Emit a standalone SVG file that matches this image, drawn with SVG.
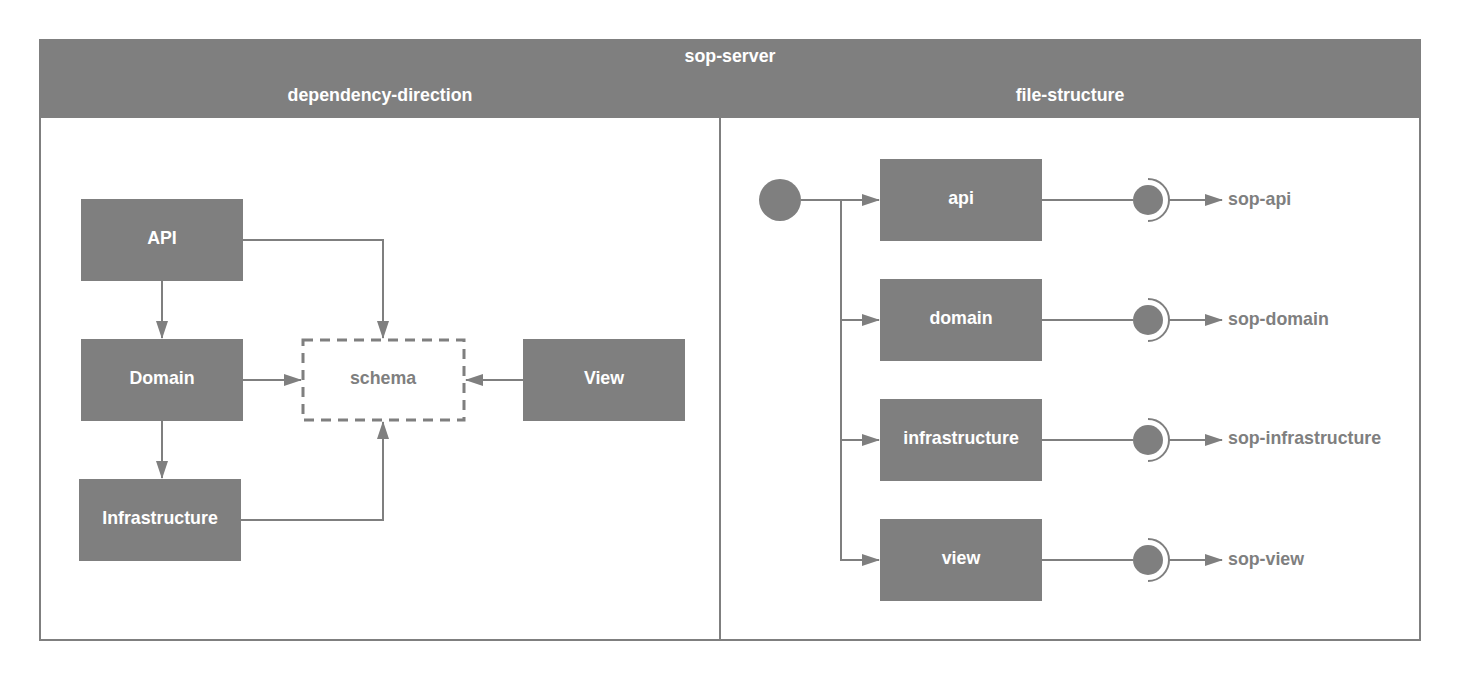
<svg xmlns="http://www.w3.org/2000/svg" width="1460" height="680" viewBox="0 0 1460 680">
<defs>
<marker id="ah" markerWidth="18" markerHeight="12" refX="17" refY="6" orient="auto" markerUnits="userSpaceOnUse">
<path d="M0,0 L18,6 L0,12 Z" fill="#7f7f7f"/>
</marker>
<style>
.box{fill:#7f7f7f}
.wt{fill:#ffffff;font-family:"Liberation Sans",Arial,sans-serif;font-weight:bold;font-size:17.8px;text-anchor:middle;dominant-baseline:central}
.gt{fill:#7f7f7f;font-family:"Liberation Sans",Arial,sans-serif;font-weight:bold;font-size:17.8px;dominant-baseline:central}
.ln{fill:none;stroke:#7f7f7f;stroke-width:2}
</style>
</defs>
<rect width="1460" height="680" fill="#ffffff"/>
<g id="frame">
<rect x="40" y="40" width="1380" height="600" fill="#ffffff" stroke="#7f7f7f" stroke-width="2"/>
<rect x="40" y="40" width="1380" height="78" fill="#7f7f7f"/>
<line x1="720" y1="118" x2="720" y2="640" stroke="#7f7f7f" stroke-width="2"/>
<text class="wt" x="730" y="56">sop-server</text>
<text class="wt" x="380" y="95">dependency-direction</text>
<text class="wt" x="1070" y="95">file-structure</text>
</g>
<g id="connectors">
<polyline class="ln" points="243,240 383,240 383,338" marker-end="url(#ah)"/>
<line class="ln" x1="162" y1="281" x2="162" y2="338" marker-end="url(#ah)"/>
<line class="ln" x1="243" y1="380" x2="301" y2="380" marker-end="url(#ah)"/>
<line class="ln" x1="162" y1="421" x2="162" y2="478" marker-end="url(#ah)"/>
<polyline class="ln" points="241,520 383,520 383,422" marker-end="url(#ah)"/>
<line class="ln" x1="523" y1="380" x2="466" y2="380" marker-end="url(#ah)"/>
<line class="ln" x1="801" y1="200" x2="879" y2="200" marker-end="url(#ah)"/>
<polyline class="ln" points="841,200 841,560 879,560" marker-end="url(#ah)"/>
<line class="ln" x1="841" y1="320" x2="879" y2="320" marker-end="url(#ah)"/>
<line class="ln" x1="841" y1="440" x2="879" y2="440" marker-end="url(#ah)"/>
<line class="ln" x1="1042" y1="200" x2="1133" y2="200"/>
<line class="ln" x1="1042" y1="320" x2="1133" y2="320"/>
<line class="ln" x1="1042" y1="440" x2="1133" y2="440"/>
<line class="ln" x1="1042" y1="560" x2="1133" y2="560"/>
<line class="ln" x1="1169" y1="200" x2="1222" y2="200" marker-end="url(#ah)"/>
<line class="ln" x1="1169" y1="320" x2="1222" y2="320" marker-end="url(#ah)"/>
<line class="ln" x1="1169" y1="440" x2="1222" y2="440" marker-end="url(#ah)"/>
<line class="ln" x1="1169" y1="560" x2="1222" y2="560" marker-end="url(#ah)"/>
</g>
<g id="api-node"><rect class="box" x="81" y="199" width="162" height="82"/><text class="wt" x="162" y="238">API</text></g>
<g id="domain-node"><rect class="box" x="81" y="339" width="162" height="82"/><text class="wt" x="162" y="378">Domain</text></g>
<g id="infrastructure-node"><rect class="box" x="79" y="479" width="162" height="82"/><text class="wt" x="160" y="518">Infrastructure</text></g>
<g id="schema-node"><rect x="303" y="340" width="161" height="80" fill="#ffffff" stroke="#7f7f7f" stroke-width="3" stroke-dasharray="10,7"/><text class="gt" x="383" y="378" text-anchor="middle">schema</text></g>
<g id="view-node"><rect class="box" x="523" y="339" width="162" height="82"/><text class="wt" x="604" y="378">View</text></g>
<g id="root-node"><circle cx="780" cy="200" r="21" fill="#7f7f7f"/></g>
<g id="api-dir"><rect class="box" x="880" y="159" width="162" height="82"/><text class="wt" x="961" y="198">api</text></g>
<g id="domain-dir"><rect class="box" x="880" y="279" width="162" height="82"/><text class="wt" x="961" y="318">domain</text></g>
<g id="infrastructure-dir"><rect class="box" x="880" y="399" width="162" height="82"/><text class="wt" x="961" y="438">infrastructure</text></g>
<g id="view-dir"><rect class="box" x="880" y="519" width="162" height="82"/><text class="wt" x="961" y="558">view</text></g>
<g id="sop-api"><circle cx="1148" cy="200" r="15" fill="#7f7f7f"/><path class="ln" d="M1148,179 A21,21 0 0 1 1148,221"/><text class="gt" x="1228" y="199">sop-api</text></g>
<g id="sop-domain"><circle cx="1148" cy="320" r="15" fill="#7f7f7f"/><path class="ln" d="M1148,299 A21,21 0 0 1 1148,341"/><text class="gt" x="1228" y="319">sop-domain</text></g>
<g id="sop-infrastructure"><circle cx="1148" cy="440" r="15" fill="#7f7f7f"/><path class="ln" d="M1148,419 A21,21 0 0 1 1148,461"/><text class="gt" x="1228" y="438">sop-infrastructure</text></g>
<g id="sop-view"><circle cx="1148" cy="560" r="15" fill="#7f7f7f"/><path class="ln" d="M1148,539 A21,21 0 0 1 1148,581"/><text class="gt" x="1228" y="559">sop-view</text></g>
</svg>
